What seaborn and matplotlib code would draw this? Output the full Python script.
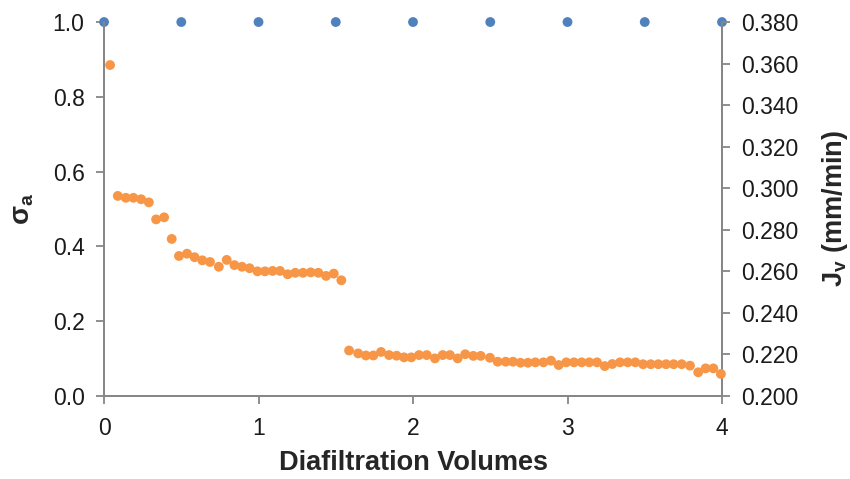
#!/usr/bin/env python3
import numpy as np
import pandas as pd
import matplotlib
matplotlib.use("Agg")
import matplotlib.pyplot as plt
import seaborn as sns
from matplotlib.ticker import MultipleLocator, FormatStrFormatter

# data
dv_sigma = [0.0, 0.5, 1.0, 1.5, 2.0, 2.5, 3.0, 3.5, 4.0]
sigma_a = [1.0, 1.0, 1.0, 1.0, 1.0, 1.0, 1.0, 1.0, 1.0]

dv_flux = [
    0.039, 0.089, 0.141, 0.190, 0.240, 0.290, 0.337, 0.389, 0.438, 0.485,
    0.537, 0.586, 0.636, 0.686, 0.743, 0.794, 0.844, 0.893, 0.942, 0.993,
    1.042, 1.091, 1.139, 1.189, 1.238, 1.288, 1.338, 1.387, 1.437, 1.487,
    1.536, 1.586, 1.645, 1.695, 1.743, 1.793, 1.845, 1.894, 1.942, 1.989,
    2.039, 2.089, 2.142, 2.192, 2.239, 2.289, 2.338, 2.390, 2.438, 2.498,
    2.548, 2.600, 2.647, 2.696, 2.744, 2.792, 2.844, 2.893, 2.943, 2.992,
    3.042, 3.092, 3.141, 3.191, 3.241, 3.290, 3.340, 3.390, 3.439, 3.489,
    3.539, 3.588, 3.638, 3.687, 3.739, 3.793, 3.846, 3.894, 3.944, 3.993,
]
jv = [
    0.3593, 0.2963, 0.2954, 0.2954, 0.2947, 0.2932, 0.2850, 0.2860, 0.2756, 0.2674,
    0.2685, 0.2668, 0.2653, 0.2645, 0.2622, 0.2655, 0.2630, 0.2622, 0.2615, 0.2600,
    0.2600, 0.2602, 0.2602, 0.2586, 0.2593, 0.2593, 0.2595, 0.2593, 0.2578, 0.2589,
    0.2557, 0.2219, 0.2205, 0.2195, 0.2195, 0.2212, 0.2197, 0.2194, 0.2186, 0.2186,
    0.2197, 0.2197, 0.2181, 0.2197, 0.2197, 0.2181, 0.2201, 0.2193, 0.2193, 0.2184,
    0.2165, 0.2165, 0.2165, 0.2160, 0.2160, 0.2162, 0.2162, 0.2170, 0.2149, 0.2162,
    0.2162, 0.2162, 0.2162, 0.2162, 0.2144, 0.2154, 0.2162, 0.2162, 0.2162, 0.2153,
    0.2153, 0.2153, 0.2153, 0.2153, 0.2153, 0.2146, 0.2114, 0.2133, 0.2133, 0.2106,
]

BLUE = "#4F81BD"
ORANGE = "#F79646"
SPINE = "#868686"

sns.set_style("white")
plt.rcParams["font.family"] = ["Liberation Sans", "DejaVu Sans"]
plt.rcParams["mathtext.fontset"] = "custom"
plt.rcParams["mathtext.rm"] = "Liberation Sans"
plt.rcParams["mathtext.bf"] = "Liberation Sans:bold"

df_sigma = pd.DataFrame({"dv": dv_sigma, "sigma": sigma_a})
df_flux = pd.DataFrame({"dv": dv_flux, "jv": jv})

fig, ax = plt.subplots(figsize=(8.5, 4.79), dpi=100)
fig.subplots_adjust(left=0.1224, right=0.8494, top=0.954, bottom=0.1733)
ax2 = ax.twinx()

sns.scatterplot(data=df_sigma, x="dv", y="sigma", ax=ax, color=BLUE,
                s=50, edgecolor="none", clip_on=False, zorder=5)
sns.scatterplot(data=df_flux, x="dv", y="jv", ax=ax2, color=ORANGE,
                s=50, edgecolor="none", clip_on=False, zorder=4)

ax.set_xlim(0, 4)
ax.set_ylim(0, 1.0)
ax2.set_ylim(0.2, 0.38)
ax.xaxis.set_major_locator(MultipleLocator(1))
ax.yaxis.set_major_locator(MultipleLocator(0.2))
ax2.yaxis.set_major_locator(MultipleLocator(0.02))
ax.yaxis.set_major_formatter(FormatStrFormatter("%.1f"))
ax2.yaxis.set_major_formatter(FormatStrFormatter("%.3f"))

for a in (ax, ax2):
    a.spines["top"].set_visible(False)
    for s in ("left", "right", "bottom"):
        a.spines[s].set_color(SPINE)
        a.spines[s].set_linewidth(1.3)
    a.tick_params(axis="both", which="major", length=6, width=1.3,
                  color=SPINE, labelsize=16.5, labelcolor="#1a1a1a", pad=8)
    a.grid(False)

ax.tick_params(axis="y", left=True, direction="out")
ax.tick_params(axis="x", bottom=True, direction="out", pad=9)
ax2.tick_params(axis="y", right=True, direction="out")

ax.set_xlabel("Diafiltration Volumes", fontsize=19.5, fontweight="bold", labelpad=7)
ax.set_ylabel(r"$\mathbf{\sigma_a}$", fontsize=20, fontweight="bold", labelpad=12)
ax2.set_ylabel(r"$\mathbf{J_v}$ (mm/min)", fontsize=19.5, fontweight="bold",
               rotation=90, labelpad=15)

fig.savefig("out.png", dpi=100)
